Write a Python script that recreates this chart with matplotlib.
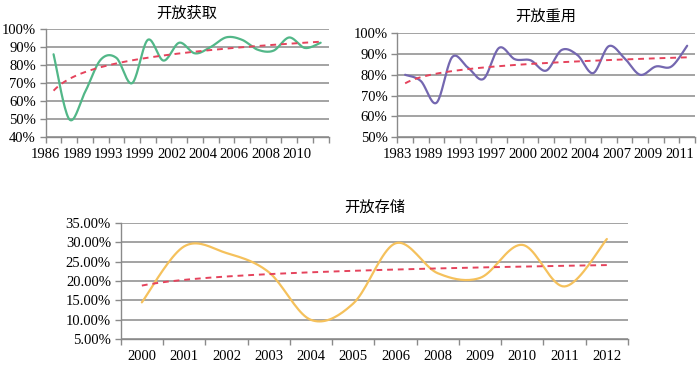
import numpy as np
import matplotlib

matplotlib.use("Agg")
import matplotlib.pyplot as plt

# 开放获取: 18 categories, every second one labelled
ACCESS_LABELS = ["1986", "1989", "1993", "1999", "2002", "2004", "2006", "2008", "2010"]
ACCESS_VALUES = [86, 50, 65, 83, 84, 70, 94, 82.5, 92.4, 86.5, 90, 95.4, 94, 88.5, 88, 95.3, 89.5, 92.4]

# 开放重用: 19 categories, every second one labelled
REUSE_LABELS = ["1983", "1989", "1993", "1997", "2000", "2002", "2004", "2007", "2009", "2011"]
REUSE_VALUES = [80, 77, 66.5, 88.5, 83.5, 78, 93, 87.5, 87, 82, 92, 89.5, 80.8, 93.8, 88, 80, 84, 84, 94]

# 开放存储
STORAGE_YEARS = ["2000", "2001", "2002", "2003", "2004", "2005", "2006", "2008", "2009", "2010", "2011", "2012"]
STORAGE_VALUES = [14.5, 28.9, 27.2, 22.3, 10, 14.2, 29.7, 22, 20.8, 29.3, 18.6, 30.8]

W, H = 700, 369
GRID = "#8a8a8a"
TREND = "#e5435c"
SERIF = ["Liberation Serif", "DejaVu Serif"]
CJK = ["Noto Sans CJK SC", "DejaVu Sans"]


def smooth(values, steps=20):
    # Catmull-Rom style smoothing, like a spreadsheet "smoothed line"
    y = np.asarray(values, dtype=float)
    x = np.arange(len(y), dtype=float)
    px = np.concatenate([[x[0]], x, [x[-1]]])
    py = np.concatenate([[y[0]], y, [y[-1]]])
    xs, ys = [], []
    for i in range(len(y) - 1):
        p0, p1, p2, p3 = (np.array([px[j], py[j]]) for j in range(i, i + 4))
        c1 = p1 + (p2 - p0) / 6
        c2 = p2 - (p3 - p1) / 6
        t = np.linspace(0, 1, steps, endpoint=False)[:, None]
        pts = ((1 - t) ** 3) * p1 + 3 * ((1 - t) ** 2) * t * c1 + 3 * (1 - t) * t ** 2 * c2 + t ** 3 * p2
        xs.extend(pts[:, 0])
        ys.extend(pts[:, 1])
    xs.append(x[-1])
    ys.append(y[-1])
    return np.array(xs), np.array(ys)


def log_trend(values):
    y = np.asarray(values, dtype=float)
    x = np.arange(1, len(y) + 1)
    a, b = np.polyfit(np.log(x), y, 1)
    xs = np.linspace(1, len(y), 200)
    return xs - 1, a * np.log(xs) + b


def make_axes(fig, left, top, right, bottom):
    ax = fig.add_axes([left / W, 1 - bottom / H, (right - left) / W, (bottom - top) / H])
    for side in ("top", "right"):
        ax.spines[side].set_visible(False)
    for side in ("left", "bottom"):
        ax.spines[side].set_color(GRID)
        ax.spines[side].set_linewidth(1.0)
    ax.yaxis.grid(True, color=GRID, linewidth=1.1)
    ax.set_axisbelow(True)
    ax.tick_params(axis="both", which="both", color=GRID, length=4, width=1.0, labelsize=10.5)
    ax.tick_params(axis="x", pad=4)
    ax.tick_params(axis="y", pad=3)
    return ax


def draw_panel(ax, values, color, labels, step, ymin, ymax, ystep, fmt, title):
    n = len(values)
    xs, ys = smooth(values)
    ax.plot(xs, ys, color=color, linewidth=1.6, solid_capstyle="round")
    tx, ty = log_trend(values)
    ax.plot(tx, ty, color=TREND, linewidth=1.4, linestyle=(0, (3, 2.5)))
    ax.set_xlim(-0.5, n - 0.5)
    ax.set_ylim(ymin, ymax)
    yt = np.arange(ymin, ymax + ystep / 2, ystep)
    ax.set_yticks(yt, labels=[fmt.format(v) for v in yt])
    if step == 1:
        ax.set_xticks(np.arange(n), labels=labels)
        ax.tick_params(axis="x", which="major", length=0)
    else:
        ax.set_xticks(np.arange(len(labels)) * step - 0.5, labels=labels)
    ax.set_xticks(np.arange(-0.5, n), minor=True)
    for lab in ax.get_xticklabels() + ax.get_yticklabels():
        lab.set_family(SERIF)
    ax.set_title(title, family=CJK, fontsize=11, pad=8)


def main():
    fig = plt.figure(figsize=(W / 100, H / 100), dpi=100)

    ax1 = make_axes(fig, 45.7, 29, 328.5, 137.3)
    draw_panel(ax1, ACCESS_VALUES, "#52b788", ACCESS_LABELS, 2, 40, 100, 10, "{:.0f}%", "开放获取")

    ax2 = make_axes(fig, 397.3, 33.3, 695, 137)
    draw_panel(ax2, REUSE_VALUES, "#7467b0", REUSE_LABELS, 2, 50, 100, 10, "{:.0f}%", "开放重用")

    ax3 = make_axes(fig, 120.7, 222.7, 628, 339.3)
    draw_panel(ax3, STORAGE_VALUES, "#f5c15c", STORAGE_YEARS, 1, 5, 35, 5, "{:.2f}%", "开放存储")
    ax3.tick_params(axis="x", pad=8)

    fig.savefig("out.png", dpi=100)


if __name__ == "__main__":
    main()
